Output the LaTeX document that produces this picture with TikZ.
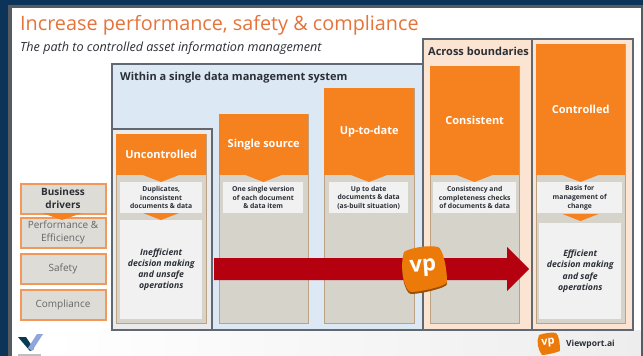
\documentclass[tikz,border=0pt]{standalone}
\usepackage{fontspec}
\setmainfont{Open Sans}
\usetikzlibrary{calc}
\definecolor{navy}{HTML}{0C3358}
\definecolor{frame}{HTML}{555B60}
\definecolor{titleor}{HTML}{E5733A}
\definecolor{ink}{HTML}{2B2F36}
\definecolor{boxline}{HTML}{5F6873}
\definecolor{bluefill}{HTML}{DCE8F4}
\definecolor{peach}{HTML}{FBE4D2}
\definecolor{orangebar}{HTML}{F5811F}
\definecolor{graycol}{HTML}{D6D3CB}
\definecolor{colline}{HTML}{BDA183}
\definecolor{paleb}{HTML}{F1F1F1}
\definecolor{drvline}{HTML}{F4985A}
\definecolor{drvfill}{HTML}{DEDCD6}
\definecolor{redarrow}{HTML}{B4000F}
\definecolor{vporange}{HTML}{EC7A08}
\tikzset{
  x=1pt,y=-1pt,
  area/.style={draw=boxline,line width=1.8pt,anchor=north west,inner sep=0pt},
  head/.style={fill=orangebar,draw=none,anchor=north west,text=white,font=\bfseries\fontsize{11}{13}\selectfont,align=center,inner sep=0pt},
  column/.style={fill=graycol,draw=colline,line width=1.1pt,anchor=north west,inner sep=0pt},
  note/.style={fill=paleb,anchor=north west,inner sep=0pt,text=ink,font=\bfseries\fontsize{6.8}{8.7}\selectfont,align=center},
  result/.style={fill=paleb,anchor=north west,inner sep=0pt,text=ink,font=\bfseries\itshape\fontsize{8.7}{11.2}\selectfont,align=center},
  driver/.style={fill=drvfill,draw=drvline,line width=2pt,anchor=north west,inner sep=0pt,minimum width=85pt,minimum height=30pt,align=center,text=black!60,font=\fontsize{10}{13}\selectfont},
  notch/.style={fill=orangebar,draw=none},
  boxlabel/.style={anchor=west,inner sep=0pt,text=ink,font=\bfseries\fontsize{11}{13}\selectfont},
}
\newcommand{\orangenotch}[2]{\fill[notch] (#1-18,#2) -- (#1+18,#2) -- (#1,#2+7) -- cycle;}
\begin{document}
\begin{tikzpicture}
\useasboundingbox (0,0) rectangle (643,356);
\fill[navy] (0,0) rectangle (643,356);
\fill[frame] (8,5) rectangle (643,356);
\fill[white] (11.5,8) rectangle (640.5,356);
\shade[left color=white,right color=black!7] (48,330) rectangle (640.5,356);
% title
\node[anchor=west,inner sep=0pt,text=titleor,font=\fontsize{19.8}{24}\selectfont] (title) at (20,25) {Increase performance, safety \& compliance};
\node[anchor=west,inner sep=0pt,text=ink,font=\itshape\fontsize{12.6}{14}\selectfont] (subtitle) at (20,48) {The path to controlled asset information management};
% areas
\node[area,fill=bluefill,minimum width=311pt,minimum height=266pt] (within) at (111,63) {};
\node[area,fill=peach,minimum width=109pt,minimum height=291pt] (across) at (422,38) {};
\node[area,fill=peach,minimum width=101pt,minimum height=291pt] (controlledarea) at (531,38) {};
\node[area,fill=white!92!black,minimum width=100pt,minimum height=201pt] (uncontrolledarea) at (111,128) {};
\node[boxlabel] (withinlabel) at (120,78) {Within a single data management system};
\node[boxlabel] (acrosslabel) at (428,51) {Across boundaries};
% columns
\node[column,minimum width=90pt,minimum height=189pt] (c1) at (116,134) {};
\node[column,minimum width=89pt,minimum height=209pt] (c2) at (219,114) {};
\node[column,minimum width=90pt,minimum height=235pt] (c3) at (324,88) {};
\node[column,minimum width=89pt,minimum height=257pt] (c4) at (430,66) {};
\node[column,minimum width=89pt,minimum height=279pt] (c5) at (536,44) {};
% headers
\node[head,minimum width=90pt,minimum height=41pt] (h1) at (116,134) {Uncontrolled};
\node[head,minimum width=89pt,minimum height=61pt] (h2) at (219,114) {Single source};
\node[head,minimum width=90pt,minimum height=87pt] (h3) at (324,88) {Up-to-date};
\node[head,minimum width=89pt,minimum height=109pt] (h4) at (430,66) {Consistent};
\node[head,minimum width=89pt,minimum height=131pt] (h5) at (536,44) {Controlled};
\orangenotch{161}{175}
\orangenotch{263.5}{175}
\orangenotch{369}{175}
\orangenotch{474.5}{175}
\orangenotch{580.5}{175}
% notes
\node[note,minimum width=82pt,minimum height=31pt] (n1) at (120,182) {Duplicates,\\inconsistent\\documents \& data};
\node[note,minimum width=80pt,minimum height=31pt] (n2) at (223,182) {One single version\\of each document\\\& data item};
\node[note,minimum width=79pt,minimum height=31pt] (n3) at (329,182) {Up to date\\documents \& data\\(as-built situation)};
\node[note,minimum width=83pt,minimum height=31pt] (n4) at (433,182) {Consistency and\\completeness checks\\of documents \& data};
\node[note,minimum width=85pt,minimum height=31pt] (n5) at (537,182) {Basis for\\management of\\change};
\orangenotch{161}{213}
\orangenotch{580.5}{214}
\node[result,minimum width=82pt,minimum height=99pt] (r1) at (120,220) {Inefficient\\decision making\\and unsafe\\operations};
\node[result,minimum width=82pt,minimum height=96pt] (r5) at (539,223) {Efficient\\decision making\\and safe\\operations};
% drivers
\node[driver,text=ink,font=\bfseries\fontsize{10}{13}\selectfont] (d0) at (19.5,182.5) {Business\\drivers};
\node[driver] (d1) at (19.5,216.5) {Performance \&\\Efficiency};
\node[driver] (d2) at (19.5,252.5) {Safety};
\node[driver] (d3) at (19.5,289) {Compliance};
\fill[notch] (42,213) -- (82,213) -- (62,220) -- cycle;
% red arrow
\coordinate (arrowstart) at (214,269);
\coordinate (arrowtip) at (529,269);
\fill[redarrow] (arrowstart |- 0,258) -- (507,258) -- (507,247) -- (arrowtip) -- (507,291) -- (507,280) -- (arrowstart |- 0,280) -- cycle;
% vp logo big
\fill[vporange!65!black] (404,255) .. controls (412,249) and (430,246) .. (438,249) .. controls (443,251) and (447,270) .. (447,284) .. controls (447,288) and (420,294) .. (411,294) .. controls (405,294) and (399,270) .. (404,255) -- cycle;
\fill[vporange] (404,252) .. controls (412,247) and (430,245) .. (438,247) .. controls (443,249) and (447,268) .. (447,282) .. controls (447,286) and (420,292) .. (411,292) .. controls (405,292) and (399,268) .. (404,252) -- cycle;
\node[inner sep=0pt,text=white,rotate=4,font=\bfseries\fontsize{22}{22}\selectfont] (vpbig) at (423,268) {vp};
% vp logo small
\fill[vporange] (539,335) .. controls (544,333) and (553,332) .. (556,333) .. controls (559,335) and (560,344) .. (560,351) .. controls (555,353) and (546,355) .. (542,355) .. controls (538,350) and (536,341) .. (539,335) -- cycle;
\node[inner sep=0pt,text=white,rotate=4,font=\bfseries\fontsize{11}{12}\selectfont] (vpsmall) at (548,343) {vp};
\node[anchor=west,inner sep=0pt,text=ink,font=\bfseries\fontsize{8.5}{10}\selectfont] (viewport) at (566,344) {Viewport.ai};
% V logo
\fill[white] (12,328) rectangle (48,356);
\fill[black!20!navy!80!teal] (18,337) -- (26,337) -- (34,349) -- (30,351) -- cycle;
\fill[cyan!40!blue!45] (28,348) -- (37,334) -- (43,334) -- (32,351) -- cycle;
\fill[black!25] (18,353.5) rectangle (41,356);
\end{tikzpicture}
\end{document}
